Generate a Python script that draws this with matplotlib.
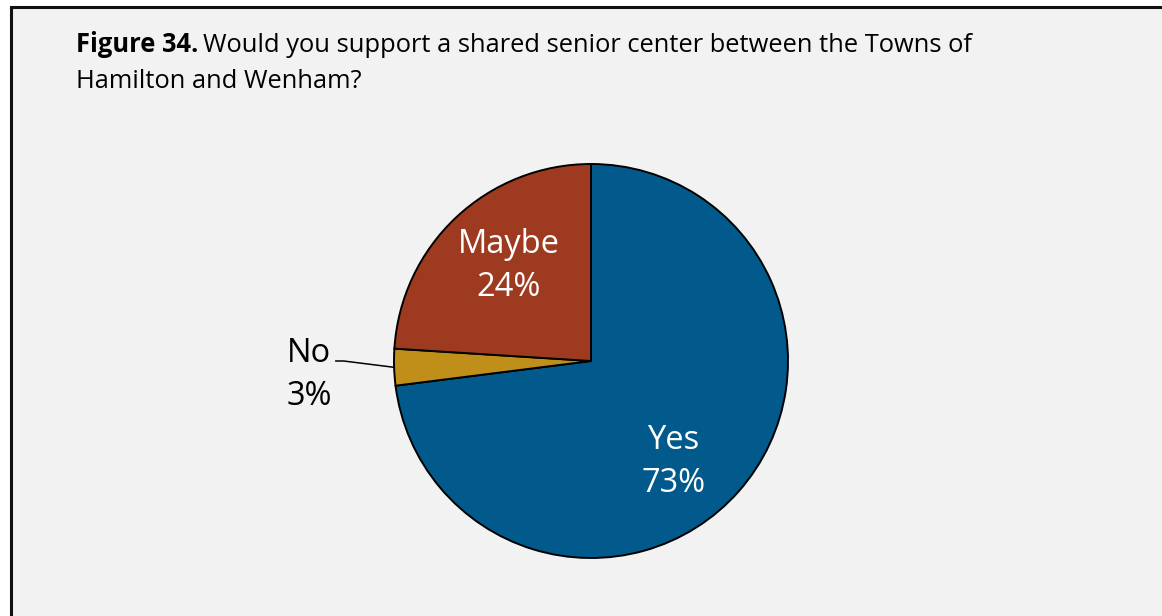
import numpy as np
import matplotlib.pyplot as plt
from matplotlib.patches import Rectangle

plt.rcParams['font.family'] = ['Open Sans', 'DejaVu Sans']

categories = ['Yes', 'No', 'Maybe']
shares = [73, 3, 24]
colors = ['#025A8C', '#C08F1A', '#9E3A1F']

# label anchor points in pie units (radius = 1)
label_pos = {'Yes': (0.417, -0.513), 'Maybe': (-0.416, 0.482), 'No': (-1.43, -0.07)}

W, H = 1162, 616
fig = plt.figure(figsize=(W / 100, H / 100), dpi=100)
fig.patch.set_facecolor('white')

# grey panel with a black frame on the top and left
fig.patches.append(Rectangle((11 / W, -0.1), 1.2, 0.1 + (H - 7) / H, transform=fig.transFigure,
                             facecolor='#F2F2F2', edgecolor='#111111', linewidth=2.2, zorder=-5))

t1 = fig.text(76 / W, 1 - 52 / H, 'Figure 34.', fontsize=18.4, fontweight='bold',
              color='black', va='baseline')
fig.canvas.draw()
bb = t1.get_window_extent()
fig.text((bb.x1 + 5) / W, 1 - 52 / H,
         'Would you support a shared senior center between the Towns of',
         fontsize=18.4, color='black', va='baseline')
fig.text(76 / W, 1 - 88 / H, 'Hamilton and Wenham?', fontsize=18.4,
         color='black', va='baseline')

r_px = 197
cx, cy = 591, 361
ax = fig.add_axes([(cx - r_px) / W, (H - cy - r_px) / H, 2 * r_px / W, 2 * r_px / H])
ax.set_facecolor('none')
ax.set_zorder(2)
wedges, _ = ax.pie(shares, colors=colors, startangle=90, counterclock=False, radius=1,
                   wedgeprops=dict(edgecolor='black', linewidth=1.4))
ax.set_xlim(-1, 1)
ax.set_ylim(-1, 1)
ax.set_aspect('equal')
ax.axis('off')

for cat, val in zip(categories, shares):
    x, y = label_pos[cat]
    color = 'black' if cat == 'No' else 'white'
    ax.text(x, y, f'{cat}\n{val}%', ha='center', va='center', fontsize=23.5,
            color=color, linespacing=1.38, clip_on=False)

# leader line for the small slice
ax.plot([-1.295, -1.255, -1.0], [0.0, 0.0, -0.032], color='black', linewidth=1.1, clip_on=False)

fig.savefig('out.png', dpi=100, facecolor=fig.get_facecolor())
